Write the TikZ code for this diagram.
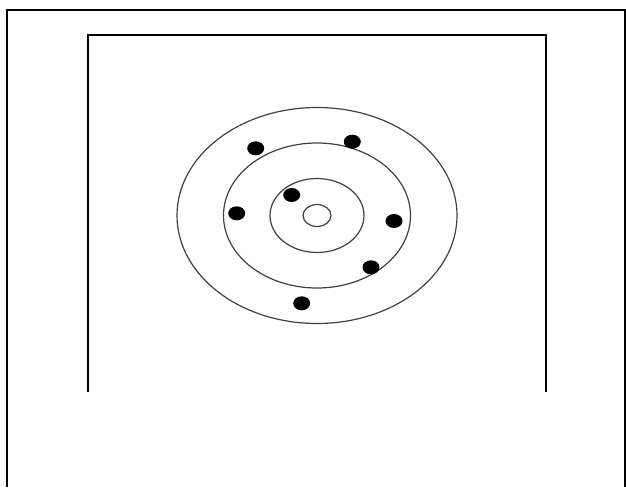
\documentclass[tikz,border=0pt]{standalone}
\begin{document}
\begin{tikzpicture}[x=1pt,y=-1pt,
  frame/.style={line width=2pt,black},
  ring/.style={line width=1.2pt,black!75},
  dot/.style={fill=black}]
\useasboundingbox (0,0) rectangle (626,487);
\draw[frame] (7,487) -- (7,10) -- (624.5,10) -- (624.5,487);
\draw[frame] (88,392) -- (88,35) -- (546,35) -- (546,392);
\coordinate (c) at (317,215.5);
\draw[ring] (c) ellipse [x radius=140, y radius=108];
\draw[ring] (c) ellipse [x radius=93.5, y radius=72.5];
\draw[ring] (c) ellipse [x radius=47, y radius=37];
\draw[ring] (c) ellipse [x radius=14, y radius=11];
\foreach \p in {(255.7,148.3),(352.3,141.7),(291.7,195),(236.7,213.3),(394,221),(371,267.3),(301.7,303.3)}
  \fill[dot] \p ellipse [x radius=8.5, y radius=7];
\end{tikzpicture}
\end{document}
